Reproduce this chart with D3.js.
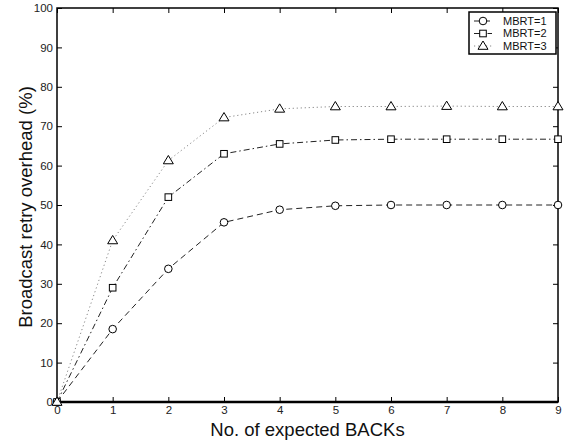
<!DOCTYPE html>
<html>
<head>
<meta charset="utf-8">
<script src="https://cdn.jsdelivr.net/npm/d3@7"></script>
<style>
  body { margin: 0; background: #fff; }
  text { font-family: "Liberation Sans", Arial, sans-serif; }
</style>
</head>
<body>
<svg id="plotSvg"></svg>
<script>
var width = 571;
var height = 443;
var plotSvg = document.getElementById('plotSvg');
plotSvg.setAttribute("width", width);
plotSvg.setAttribute("height", height);

// data
var backs = [0, 1, 2, 3, 4, 5, 6, 7, 8, 9];
var mbrt1 = [0, 18.5, 33.8, 45.6, 48.8, 49.8, 50, 50, 50, 50];
var mbrt2 = [0, 29, 52, 63, 65.5, 66.5, 66.7, 66.7, 66.7, 66.7];
var mbrt3 = [0, 41, 61.3, 72.2, 74.4, 75, 75, 75.1, 75, 75];
var seriesNames = ["MBRT=1", "MBRT=2", "MBRT=3"];
var yTicks = [0, 10, 20, 30, 40, 50, 60, 70, 80, 90, 100];

var margin = { top: 8, right: 13, bottom: 41, left: 57 },
  w = width - margin.left - margin.right,
  h = height - margin.top - margin.bottom;

var svg = d3.select("#plotSvg");
var g = svg.append("g").attr("transform", "translate(" + margin.left + "," + margin.top + ")");

var x = d3.scaleLinear().domain([0, 9]).range([0, w]);
var y = d3.scaleLinear().domain([0, 100]).range([h, 0]);

var series = [
  { name: seriesNames[0], values: mbrt1, dash: "6,4", stroke: "#222", marker: "circle" },
  { name: seriesNames[1], values: mbrt2, dash: "6,3,1.5,3", stroke: "#222", marker: "square" },
  { name: seriesNames[2], values: mbrt3, dash: "1.2,2.8", stroke: "#888", marker: "triangle" }
];

// axes with inward ticks, box on all sides
function styleAxis(sel) {
  sel.select(".domain").remove();
  sel.selectAll("line").attr("stroke", "#000");
  sel.selectAll("text").attr("font-size", 11.5).attr("fill", "#222");
}

g.append("g")
  .attr("transform", "translate(0," + h + ")")
  .call(d3.axisBottom(x).tickValues(backs).tickSizeInner(-5).tickSizeOuter(0).tickPadding(4).tickFormat(d3.format("d")))
  .call(styleAxis);

g.append("g")
  .call(d3.axisTop(x).tickValues(backs).tickSizeInner(-5).tickSizeOuter(0).tickFormat(""))
  .call(styleAxis);

g.append("g")
  .call(d3.axisLeft(y).tickValues(yTicks).tickSizeInner(-5).tickSizeOuter(0).tickPadding(4))
  .call(styleAxis);

g.append("g")
  .attr("transform", "translate(" + w + ",0)")
  .call(d3.axisRight(y).tickValues(yTicks).tickSizeInner(-5).tickSizeOuter(0).tickFormat(""))
  .call(styleAxis);

g.append("rect")
  .attr("width", w).attr("height", h)
  .attr("fill", "none").attr("stroke", "#000").attr("stroke-width", 1.5);

g.append("line")
  .attr("x1", 0).attr("x2", w).attr("y1", h).attr("y2", h)
  .attr("stroke", "#000").attr("stroke-width", 2.5);

var line = d3.line()
  .x(function(d, i) { return x(backs[i]); })
  .y(function(d) { return y(d); });

function drawMarker(sel, type, cx, cy) {
  if (type === "circle") {
    sel.append("circle").attr("cx", cx).attr("cy", cy).attr("r", 3.8)
      .attr("fill", "#fff").attr("stroke", "#000").attr("stroke-width", 1);
  } else if (type === "square") {
    sel.append("rect").attr("x", cx - 3.3).attr("y", cy - 3.3).attr("width", 6.6).attr("height", 6.6)
      .attr("fill", "#fff").attr("stroke", "#000").attr("stroke-width", 1);
  } else {
    sel.append("path")
      .attr("d", "M" + cx + "," + (cy - 5) + "L" + (cx + 5) + "," + (cy + 3.3) + "L" + (cx - 5) + "," + (cy + 3.3) + "Z")
      .attr("fill", "#fff").attr("stroke", "#000").attr("stroke-width", 1);
  }
}

series.forEach(function(s) {
  g.append("path")
    .datum(s.values)
    .attr("d", line)
    .attr("fill", "none")
    .attr("stroke", s.stroke)
    .attr("stroke-width", 1)
    .attr("stroke-dasharray", s.dash);
});

series.forEach(function(s) {
  var mg = g.append("g");
  s.values.forEach(function(v, i) {
    drawMarker(mg, s.marker, x(backs[i]), y(v));
  });
});

// legend
var legend = g.append("g").attr("transform", "translate(" + (w - 89) + ",4)");
legend.append("rect")
  .attr("width", 87).attr("height", 42)
  .attr("fill", "#fff").attr("stroke", "#000").attr("stroke-width", 1.5);

series.forEach(function(s, i) {
  var ly = 9 + i * 12.5;
  legend.append("line")
    .attr("x1", 5).attr("x2", 23).attr("y1", ly).attr("y2", ly)
    .attr("stroke", s.stroke).attr("stroke-width", 1)
    .attr("stroke-dasharray", s.dash);
  drawMarker(legend, s.marker, 14, ly);
  legend.append("text")
    .attr("x", 34).attr("y", ly).attr("dy", "0.35em")
    .attr("font-size", 11).attr("fill", "#111")
    .text(s.name);
});

// axis titles
svg.append("text")
  .attr("x", margin.left + w / 2).attr("y", 436)
  .attr("text-anchor", "middle").attr("font-size", 18.5).attr("fill", "#111")
  .text("No. of expected BACKs");

svg.append("text")
  .attr("transform", "translate(32," + (margin.top + h / 2 + 2) + ") rotate(-90)")
  .attr("text-anchor", "middle").attr("font-size", 18.5).attr("fill", "#111")
  .text("Broadcast retry overhead (%)");
</script>
</body>
</html>
